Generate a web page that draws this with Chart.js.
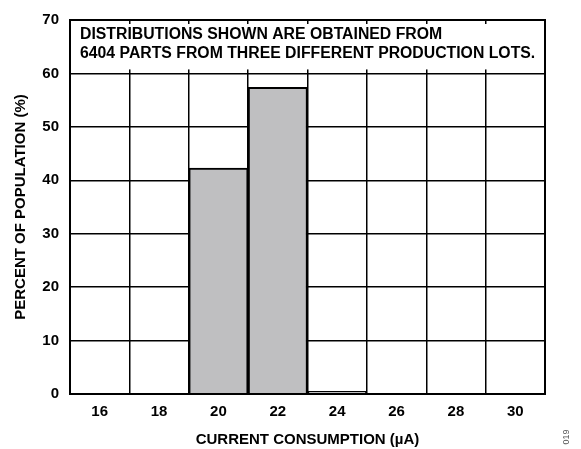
<!DOCTYPE html>
<html>
<head>
<meta charset="utf-8">
<script src="https://cdn.jsdelivr.net/npm/chart.js@4.4.1/dist/chart.umd.min.js"></script>
<style>
  html, body { margin: 0; padding: 0; background: #fff; }
  #wrap { width: 581px; height: 449px; }
</style>
</head>
<body>
<div id="wrap"><canvas id="histChart" width="581" height="449"></canvas></div>
<script>
// current bins (uA) and percent of population
var bins = ['16', '18', '20', '22', '24', '26', '28', '30'];
var percent = [0, 0, 42.3, 57.4, 0.5, 0, 0, 0];
var yTicks = [0, 10, 20, 30, 40, 50, 60, 70];
var noteLines = ['DISTRIBUTIONS SHOWN ARE OBTAINED FROM', '6404 PARTS FROM THREE DIFFERENT PRODUCTION LOTS.'];

var FONT = '"Liberation Sans", Arial, sans-serif';

// white note box over the top band, plus the figure number
var notePlugin = {
    id: 'note',
    afterDraw: function (chart) {
        var ctx = chart.ctx;
        var area = chart.chartArea;
        var y = chart.scales.y;
        var top = y.getPixelForValue(70);
        var bottom = y.getPixelForValue(60);
        ctx.save();
        ctx.fillStyle = '#fff';
        ctx.fillRect(area.left + 2, top + 4, area.right - area.left - 4, bottom - top - 8);
        ctx.fillStyle = '#000';
        ctx.font = 'bold 15.8px ' + FONT;
        ctx.textBaseline = 'middle';
        ctx.fillText(noteLines[0], area.left + 10, top + 15);
        ctx.fillText(noteLines[1], area.left + 10, top + 34);
        // figure number
        ctx.translate(567, 437);
        ctx.rotate(-Math.PI / 2);
        ctx.font = '9px ' + FONT;
        ctx.fillStyle = '#555';
        ctx.textAlign = 'center';
        ctx.fillText('019', 0, 0);
        ctx.restore();
    }
};

new Chart(document.getElementById('histChart').getContext('2d'), {
    type: 'bar',
    data: {
        labels: bins,
        datasets: [{
            data: percent,
            backgroundColor: '#bfbfc1',
            borderColor: '#000',
            borderWidth: 2,
            borderSkipped: 'bottom',
            barPercentage: 1,
            categoryPercentage: 1
        }]
    },
    options: {
        responsive: false,
        animation: false,
        layout: { padding: { left: 0, right: 36, top: 16, bottom: 0 } },
        plugins: { legend: { display: false }, tooltip: { enabled: false } },
        scales: {
            x: {
                offset: true,
                grid: { offset: true, color: '#000', lineWidth: 1.5, drawTicks: false },
                border: { color: '#000', width: 2 },
                ticks: { color: '#000', padding: 9, font: { family: FONT, size: 15, weight: 'bold' } },
                title: {
                    display: true,
                    text: 'CURRENT CONSUMPTION (µA)',
                    color: '#000',
                    font: { family: FONT, size: 15, weight: 'bold' },
                    padding: { top: 10, bottom: 0 }
                },
                afterFit: function (scale) { scale.height = 55; }
            },
            y: {
                min: 0,
                max: 70,
                afterBuildTicks: function (scale) {
                    scale.ticks = yTicks.map(function (v) { return { value: v }; });
                },
                grid: { color: '#000', lineWidth: 1.5, drawTicks: false },
                border: { color: '#000', width: 2 },
                ticks: { color: '#000', padding: 11, font: { family: FONT, size: 15, weight: 'bold' } },
                title: {
                    display: true,
                    text: 'PERCENT OF POPULATION (%)',
                    color: '#000',
                    font: { family: FONT, size: 15, weight: 'bold' },
                    padding: { top: 12, bottom: 0 }
                },
                afterFit: function (scale) { scale.width = 70; }
            }
        }
    },
    plugins: [notePlugin, {
        id: 'frame',
        afterDatasetsDraw: function (chart) {
            var a = chart.chartArea, ctx = chart.ctx;
            ctx.save();
            ctx.strokeStyle = '#000';
            ctx.lineWidth = 2;
            ctx.strokeRect(a.left, a.top, a.right - a.left, a.bottom - a.top);
            ctx.restore();
        }
    }]
});
</script>
</body>
</html>
